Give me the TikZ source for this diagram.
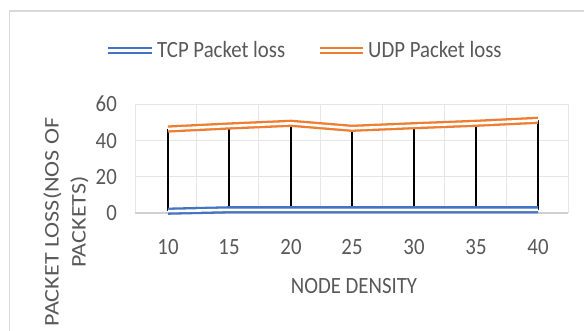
\documentclass[tikz,border=0pt]{standalone}
\usepackage{fontspec}
\setmainfont{Carlito}
\usepackage{graphicx}
\definecolor{txt}{HTML}{595959}
\definecolor{gridc}{HTML}{E6E6E6}
\definecolor{axisc}{HTML}{D0D0D0}
\definecolor{framec}{HTML}{D9D9D9}
\definecolor{tcp}{HTML}{4472C4}
\definecolor{udp}{HTML}{ED7D31}
\newcommand{\vstr}[1]{\scalebox{1}[1.12]{#1}}
\newcommand{\hstr}[1]{\scalebox{1.16}[1]{#1}}
\begin{document}
\begin{tikzpicture}[x=1pt,y=-1pt,
  lbl/.style={text=txt,font=\fontsize{20.8}{24}\selectfont,inner sep=0pt},
  ser/.style={line width=2.3pt,double=white,double distance=2.6pt,line join=round},
  hilo/.style={black,line width=2.3pt},
  gridline/.style={gridc,line width=0.9pt}]
\useasboundingbox (0,0) rectangle (584,330);
\fill[white] (0,0) rectangle (584,330);
% chart frame
\coordinate (f1) at (600,11);
\coordinate (f2) at (9.5,11);
\coordinate (f3) at (9.5,340);
\draw[framec,line width=1.5pt] (f1) -- (f2) -- (f3);
% grid
\foreach \y in {104,140.33,176.67}
  \draw[gridline] (135,\y) -- (568,\y);
\foreach \x in {135,196.86,258.71,320.57,382.43,444.29,506.14,568}
  \draw[gridline] (\x,104) -- (\x,213);
\coordinate (ax0) at (135,213);
\coordinate (ax1) at (568,213);
\draw[axisc,line width=1.1pt] (ax0) -- (ax1);
% data points
\coordinate (u1) at (168,129);
\coordinate (u2) at (229,126);
\coordinate (u3) at (291,123.3);
\coordinate (u4) at (352,128.3);
\coordinate (u5) at (414,125.7);
\coordinate (u6) at (476,123.3);
\coordinate (u7) at (538,120.3);
\coordinate (b1) at (168,211.2);
\coordinate (b2) at (229,209.8);
\coordinate (b3) at (291,209.8);
\coordinate (b4) at (352,209.8);
\coordinate (b5) at (414,209.8);
\coordinate (b6) at (476,209.8);
\coordinate (b7) at (538,209.8);
% high-low lines
\foreach \i in {1,...,7}
  \draw[hilo] (b\i) -- (u\i);
% series
\draw[ser,draw=tcp] (b1) -- (b2) -- (b3) -- (b4) -- (b5) -- (b6) -- (b7);
\draw[ser,draw=udp] (u1) -- (u2) -- (u3) -- (u4) -- (u5) -- (u6) -- (u7);
% legend
\coordinate (lt0) at (108,50.5);
\coordinate (lt1) at (152,50.5);
\coordinate (lu0) at (320,50.5);
\coordinate (lu1) at (363,50.5);
\draw[ser,draw=tcp] (lt0) -- (lt1);
\draw[ser,draw=udp] (lu0) -- (lu1);
\node[lbl,anchor=base west] (ltxt) at (157,57) {\vstr{TCP Packet loss}};
\node[lbl,anchor=base west] (lutxt) at (368,57) {\vstr{UDP Packet loss}};
% y ticks
\node[lbl,anchor=base east] (y60) at (117,111.5) {\vstr{60}};
\node[lbl,anchor=base east] (y40) at (117,148) {\vstr{40}};
\node[lbl,anchor=base east] (y20) at (117,184.3) {\vstr{20}};
\node[lbl,anchor=base east] (y0) at (117,220.5) {\vstr{0}};
% x ticks
\node[lbl,anchor=base] (x10) at (168,254) {\vstr{10}};
\node[lbl,anchor=base] (x15) at (229,254) {\vstr{15}};
\node[lbl,anchor=base] (x20) at (291,254) {\vstr{20}};
\node[lbl,anchor=base] (x25) at (352,254) {\vstr{25}};
\node[lbl,anchor=base] (x30) at (414,254) {\vstr{30}};
\node[lbl,anchor=base] (x35) at (476,254) {\vstr{35}};
\node[lbl,anchor=base] (x40) at (538,254) {\vstr{40}};
% axis titles
\node[lbl,anchor=base] (xt) at (354,293) {\vstr{NODE DENSITY}};
\node[lbl,rotate=90,anchor=base] (yt1) at (58.5,222) {\hstr{PACKET LOSS(NOS OF}};
\node[lbl,rotate=90,anchor=base] (yt2) at (85.5,222) {\hstr{PACKETS)}};
\end{tikzpicture}
\end{document}
